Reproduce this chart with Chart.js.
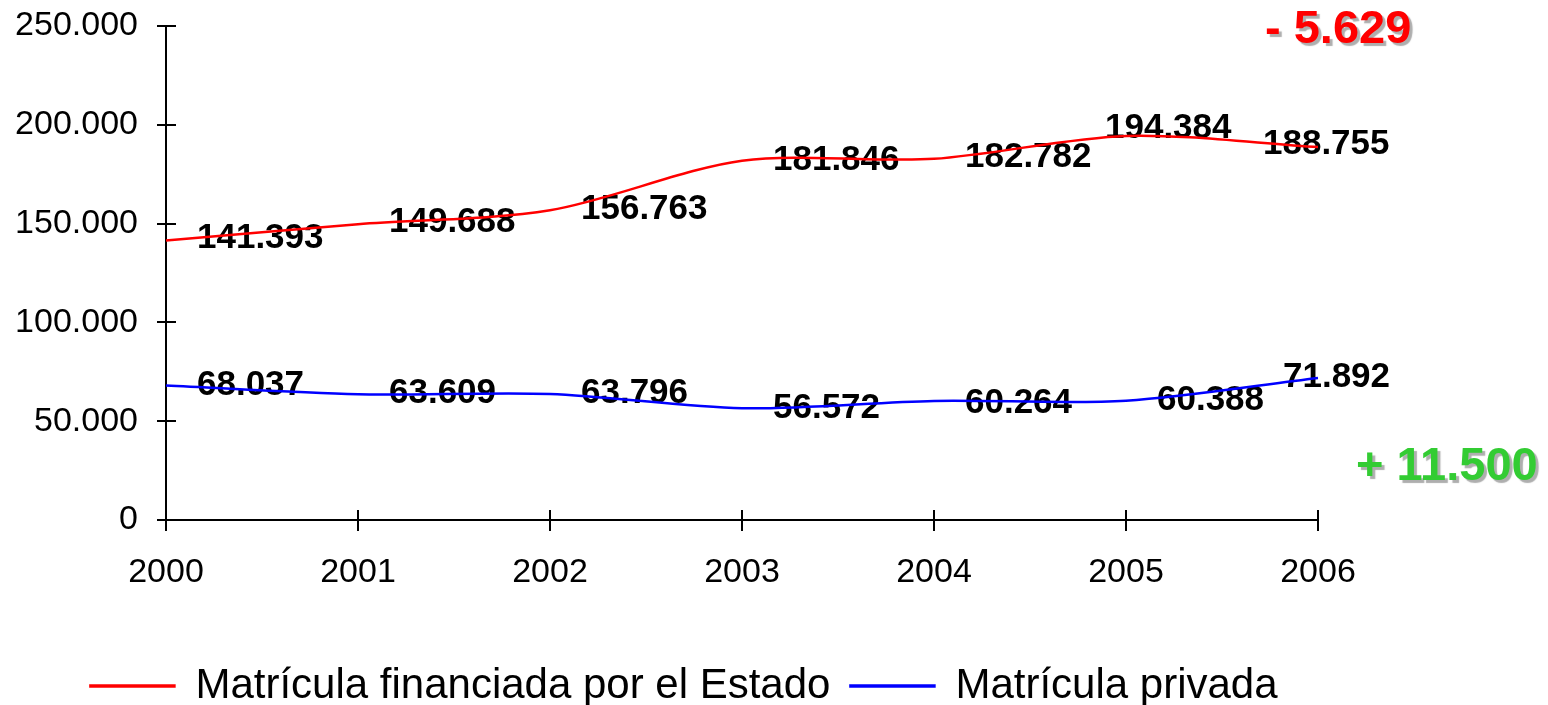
<!DOCTYPE html>
<html>
<head>
<meta charset="utf-8">
<title>Matrícula 2000-2006</title>
<script src="https://cdn.jsdelivr.net/npm/chart.js@4.4.1/dist/chart.umd.min.js"></script>
<style>
  body { margin: 0; background: #fff; }
  #myChart { display: block; }
</style>
</head>
<body>
<canvas id="myChart" width="1548" height="705"></canvas>
<script>
const years = ["2000", "2001", "2002", "2003", "2004", "2005", "2006"];
const publicEnrolment = [141393, 149688, 156763, 181846, 182782, 194384, 188755];
const privateEnrolment = [68037, 63609, 63796, 56572, 60264, 60388, 71892];
const yTicks = [0, 50000, 100000, 150000, 200000, 250000];
const publicLabel = "Matrícula financiada por el Estado";
const privateLabel = "Matrícula privada";
const publicChange = "- 5.629";
const privateChange = "+ 11.500";

// label placement next to each point (pixels), kept apart from the data
const labelShift = {
  red: { dx: [31, 31, 31, 31, 31, -21, -55], dy: [-2, -2, -1, 0, -1, -8, -3] },
  blue: { dx: [31, 31, 31, 31, 31, 31, -35], dy: [0, -1, -1, 0, 2, 0, -1] },
};
const notes = [
  { text: publicChange, color: "#ff0000", x: 1265, y: 30 },
  { text: privateChange, color: "#33cc33", x: 1356, y: 467 },
];

const FONT = "'Liberation Sans', Arial, sans-serif";
Chart.defaults.font.family = FONT;
Chart.defaults.color = "#000";

function fmt(v) {
  return String(v).replace(/\B(?=(\d{3})+(?!\d))/g, ".");
}

const pointLabels = {
  id: "pointLabels",
  beforeDatasetsDraw(chart) {
    const ctx = chart.ctx;
    ctx.save();
    ctx.font = "bold 35px " + FONT;
    ctx.fillStyle = "#000";
    ctx.textAlign = "left";
    ctx.textBaseline = "middle";
    chart.data.datasets.forEach((ds, di) => {
      const shift = di === 0 ? labelShift.red : labelShift.blue;
      chart.getDatasetMeta(di).data.forEach((pt, i) => {
        ctx.fillText(fmt(ds.data[i]), pt.x + shift.dx[i], pt.y + shift.dy[i]);
      });
    });
    ctx.restore();
  },
};

const innerTicks = {
  id: "innerTicks",
  afterDraw(chart) {
    const { ctx, chartArea, scales } = chart;
    ctx.save();
    ctx.strokeStyle = "#000";
    ctx.lineWidth = 2;
    ctx.beginPath();
    scales.y.ticks.forEach((t, i) => {
      const py = Math.round(scales.y.getPixelForTick(i));
      ctx.moveTo(chartArea.left, py);
      ctx.lineTo(chartArea.left + 10, py);
    });
    scales.x.ticks.forEach((t, i) => {
      const px = Math.round(scales.x.getPixelForTick(i));
      ctx.moveTo(px, chartArea.bottom);
      ctx.lineTo(px, chartArea.bottom - 10);
    });
    ctx.stroke();

    ctx.font = "bold 47px " + FONT;
    ctx.textAlign = "left";
    ctx.textBaseline = "middle";
    ctx.shadowColor = "rgba(120,120,120,0.6)";
    ctx.shadowOffsetX = 3;
    ctx.shadowOffsetY = 3;
    ctx.shadowBlur = 1;
    notes.forEach((n) => {
      ctx.fillStyle = n.color;
      ctx.fillText(n.text, n.x, n.y);
    });
    ctx.restore();
  },
};

const ctx = document.getElementById("myChart");

new Chart(ctx, {
  type: "line",
  data: {
    labels: years,
    datasets: [
      {
        label: publicLabel,
        data: publicEnrolment,
        borderColor: "#ff0000",
        backgroundColor: "#ff0000",
        borderWidth: 2.5,
        pointRadius: 0,
        tension: 0.3,
      },
      {
        label: privateLabel,
        data: privateEnrolment,
        borderColor: "#0000ff",
        backgroundColor: "#0000ff",
        borderWidth: 2.5,
        pointRadius: 0,
        tension: 0.3,
      },
    ],
  },
  options: {
    responsive: false,
    animation: false,
    layout: { padding: { top: 26, left: 0, right: 180, bottom: -12 } },
    plugins: {
      tooltip: { enabled: false },
      legend: {
        position: "bottom",
        labels: {
          boxWidth: 84,
          boxHeight: 1,
          padding: 20,
          font: { size: 42 },
          color: "#000",
        },
      },
    },
    scales: {
      x: {
        grid: { drawOnChartArea: false, tickLength: 11, color: "#000", lineWidth: 2 },
        border: { color: "#000", width: 2 },
        ticks: { font: { size: 34 }, padding: 21, maxRotation: 0 },
        afterFit(scale) {
          scale.height = 125;
          scale.paddingLeft = 0;
          scale.paddingRight = 230;
        },
      },
      y: {
        min: yTicks[0],
        max: yTicks[yTicks.length - 1],
        grid: { drawOnChartArea: false, tickLength: 9, color: "#000", lineWidth: 2 },
        border: { color: "#000", width: 2 },
        afterBuildTicks(scale) {
          scale.ticks = yTicks.map((v) => ({ value: v }));
        },
        ticks: {
          font: { size: 34 },
          padding: 19,
          callback: (v) => fmt(v),
        },
        afterFit(scale) {
          scale.width = 166;
          scale.paddingTop = 0;
          scale.paddingBottom = 0;
        },
      },
    },
  },
  plugins: [pointLabels, innerTicks],
});
</script>
</body>
</html>
